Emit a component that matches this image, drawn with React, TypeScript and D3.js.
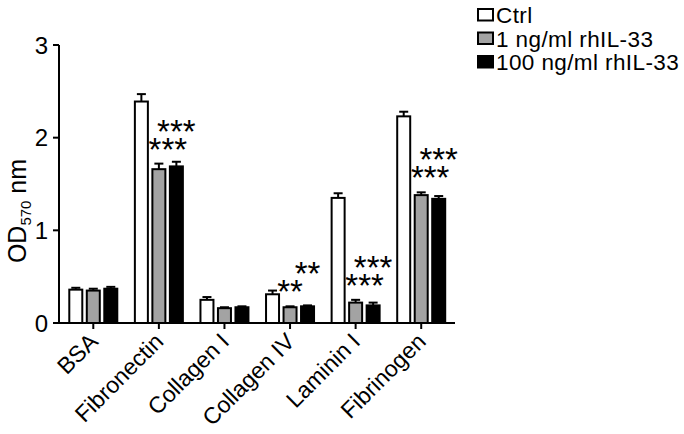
import React from "react";
import * as d3 from "d3";

const categories = ["BSA", "Fibronectin", "Collagen I", "Collagen IV", "Laminin I", "Fibrinogen"];
const seriesNames = ["Ctrl", "1 ng/ml rhIL-33", "100 ng/ml rhIL-33"];
const ctrlMean = [0.36, 2.39, 0.25, 0.31, 1.35, 2.23];
const ctrlErr = [0.02, 0.08, 0.03, 0.04, 0.05, 0.05];
const low1Mean = [0.35, 1.66, 0.16, 0.17, 0.22, 1.38];
const low1Err = [0.02, 0.06, 0.01, 0.01, 0.03, 0.03];
const high100Mean = [0.37, 1.69, 0.17, 0.18, 0.19, 1.34];
const high100Err = [0.02, 0.05, 0.01, 0.01, 0.03, 0.03];
const sig1 = ["", "***", "", "**", "***", "***"];
const sig100 = ["", "***", "", "**", "***", "***"];
const yTicks = [0, 1, 2, 3];

const fills = ["#ffffff", "#a3a3a3", "#000000"];
const FONT = "'Liberation Sans', Arial, Helvetica, sans-serif";

export default function App() {
  const W = 684, H = 434;
  const y = d3.scaleLinear().domain([0, 3]).range([323, 45]);
  const x = d3.scaleBand<string>().domain(categories).range([60.5, 454]);
  const barW = 13;
  const step = 17.5;
  const means = [ctrlMean, low1Mean, high100Mean];
  const errs = [ctrlErr, low1Err, high100Err];
  const center = (c: string) => (x(c) as number) + x.bandwidth() / 2;

  return (
    <svg width={W} height={H} style={{ position: "absolute", left: 0, top: 0, background: "#fff" }} fontFamily={FONT}>
      {/* bars */}
      {categories.map((c, ci) =>
        means.map((m, si) => {
          const cx = center(c) + (si - 1) * step;
          const top = y(m[ci]);
          const et = y(m[ci] + errs[si][ci]);
          return (
            <g key={c + si}>
              <line x1={cx} x2={cx} y1={top} y2={et} stroke="#000" strokeWidth={2} />
              <line x1={cx - 4.5} x2={cx + 4.5} y1={et} y2={et} stroke="#000" strokeWidth={2} />
              <rect x={cx - barW / 2} y={top} width={barW} height={y(0) - top} fill={fills[si]} stroke="#000" strokeWidth={2} />
            </g>
          );
        })
      )}
      {/* significance */}
      {categories.map((c, ci) => {
        if (!sig1[ci]) return null;
        const gx = center(c);
        const lowerBase = y(low1Mean[ci] + low1Err[ci]) - 3;
        const upperBase = lowerBase - 18;
        const n = sig1[ci].length;
        return (
          <g key={"s" + c} fontSize={33} textAnchor="middle" fill="#000">
            <text x={gx + (n === 3 ? 9 : 0)} y={lowerBase}>{sig1[ci]}</text>
            <text x={gx + step} y={upperBase}>{sig100[ci]}</text>
          </g>
        );
      })}
      {/* y axis */}
      <line x1={59} x2={59} y1={y(3)} y2={y(0) + 1} stroke="#000" strokeWidth={2} />
      {yTicks.map((t) => (
        <g key={"yt" + t}>
          <line x1={53} x2={59} y1={y(t)} y2={y(t)} stroke="#000" strokeWidth={2} />
          <text x={48} y={y(t) + 8.5} fontSize={24} textAnchor="end">{t}</text>
        </g>
      ))}
      {/* x axis */}
      <line x1={58} x2={455} y1={y(0)} y2={y(0)} stroke="#000" strokeWidth={2} />
      {categories.map((c) => (
        <g key={"xt" + c}>
          <line x1={center(c)} x2={center(c)} y1={y(0)} y2={y(0) + 6} stroke="#000" strokeWidth={2} />
          <text transform={`translate(${center(c) + 6},${343}) rotate(-45)`} fontSize={23} textAnchor="end">{c}</text>
        </g>
      ))}
      {/* y label */}
      <text transform={`translate(26,211) rotate(-90)`} fontSize={25} textAnchor="middle">
        OD<tspan fontSize={15} dy={5}>570</tspan><tspan dy={-5}> nm</tspan>
      </text>
      {/* legend */}
      {seriesNames.map((s, i) => (
        <g key={"lg" + i}>
          <rect x={478} y={9 + i * 23.5} width={15} height={11.5} fill={fills[i]} stroke="#000" strokeWidth={2} />
          <text x={496} y={23 + i * 23.5} fontSize={22.5} letterSpacing={0.4}>{s}</text>
        </g>
      ))}
    </svg>
  );
}
